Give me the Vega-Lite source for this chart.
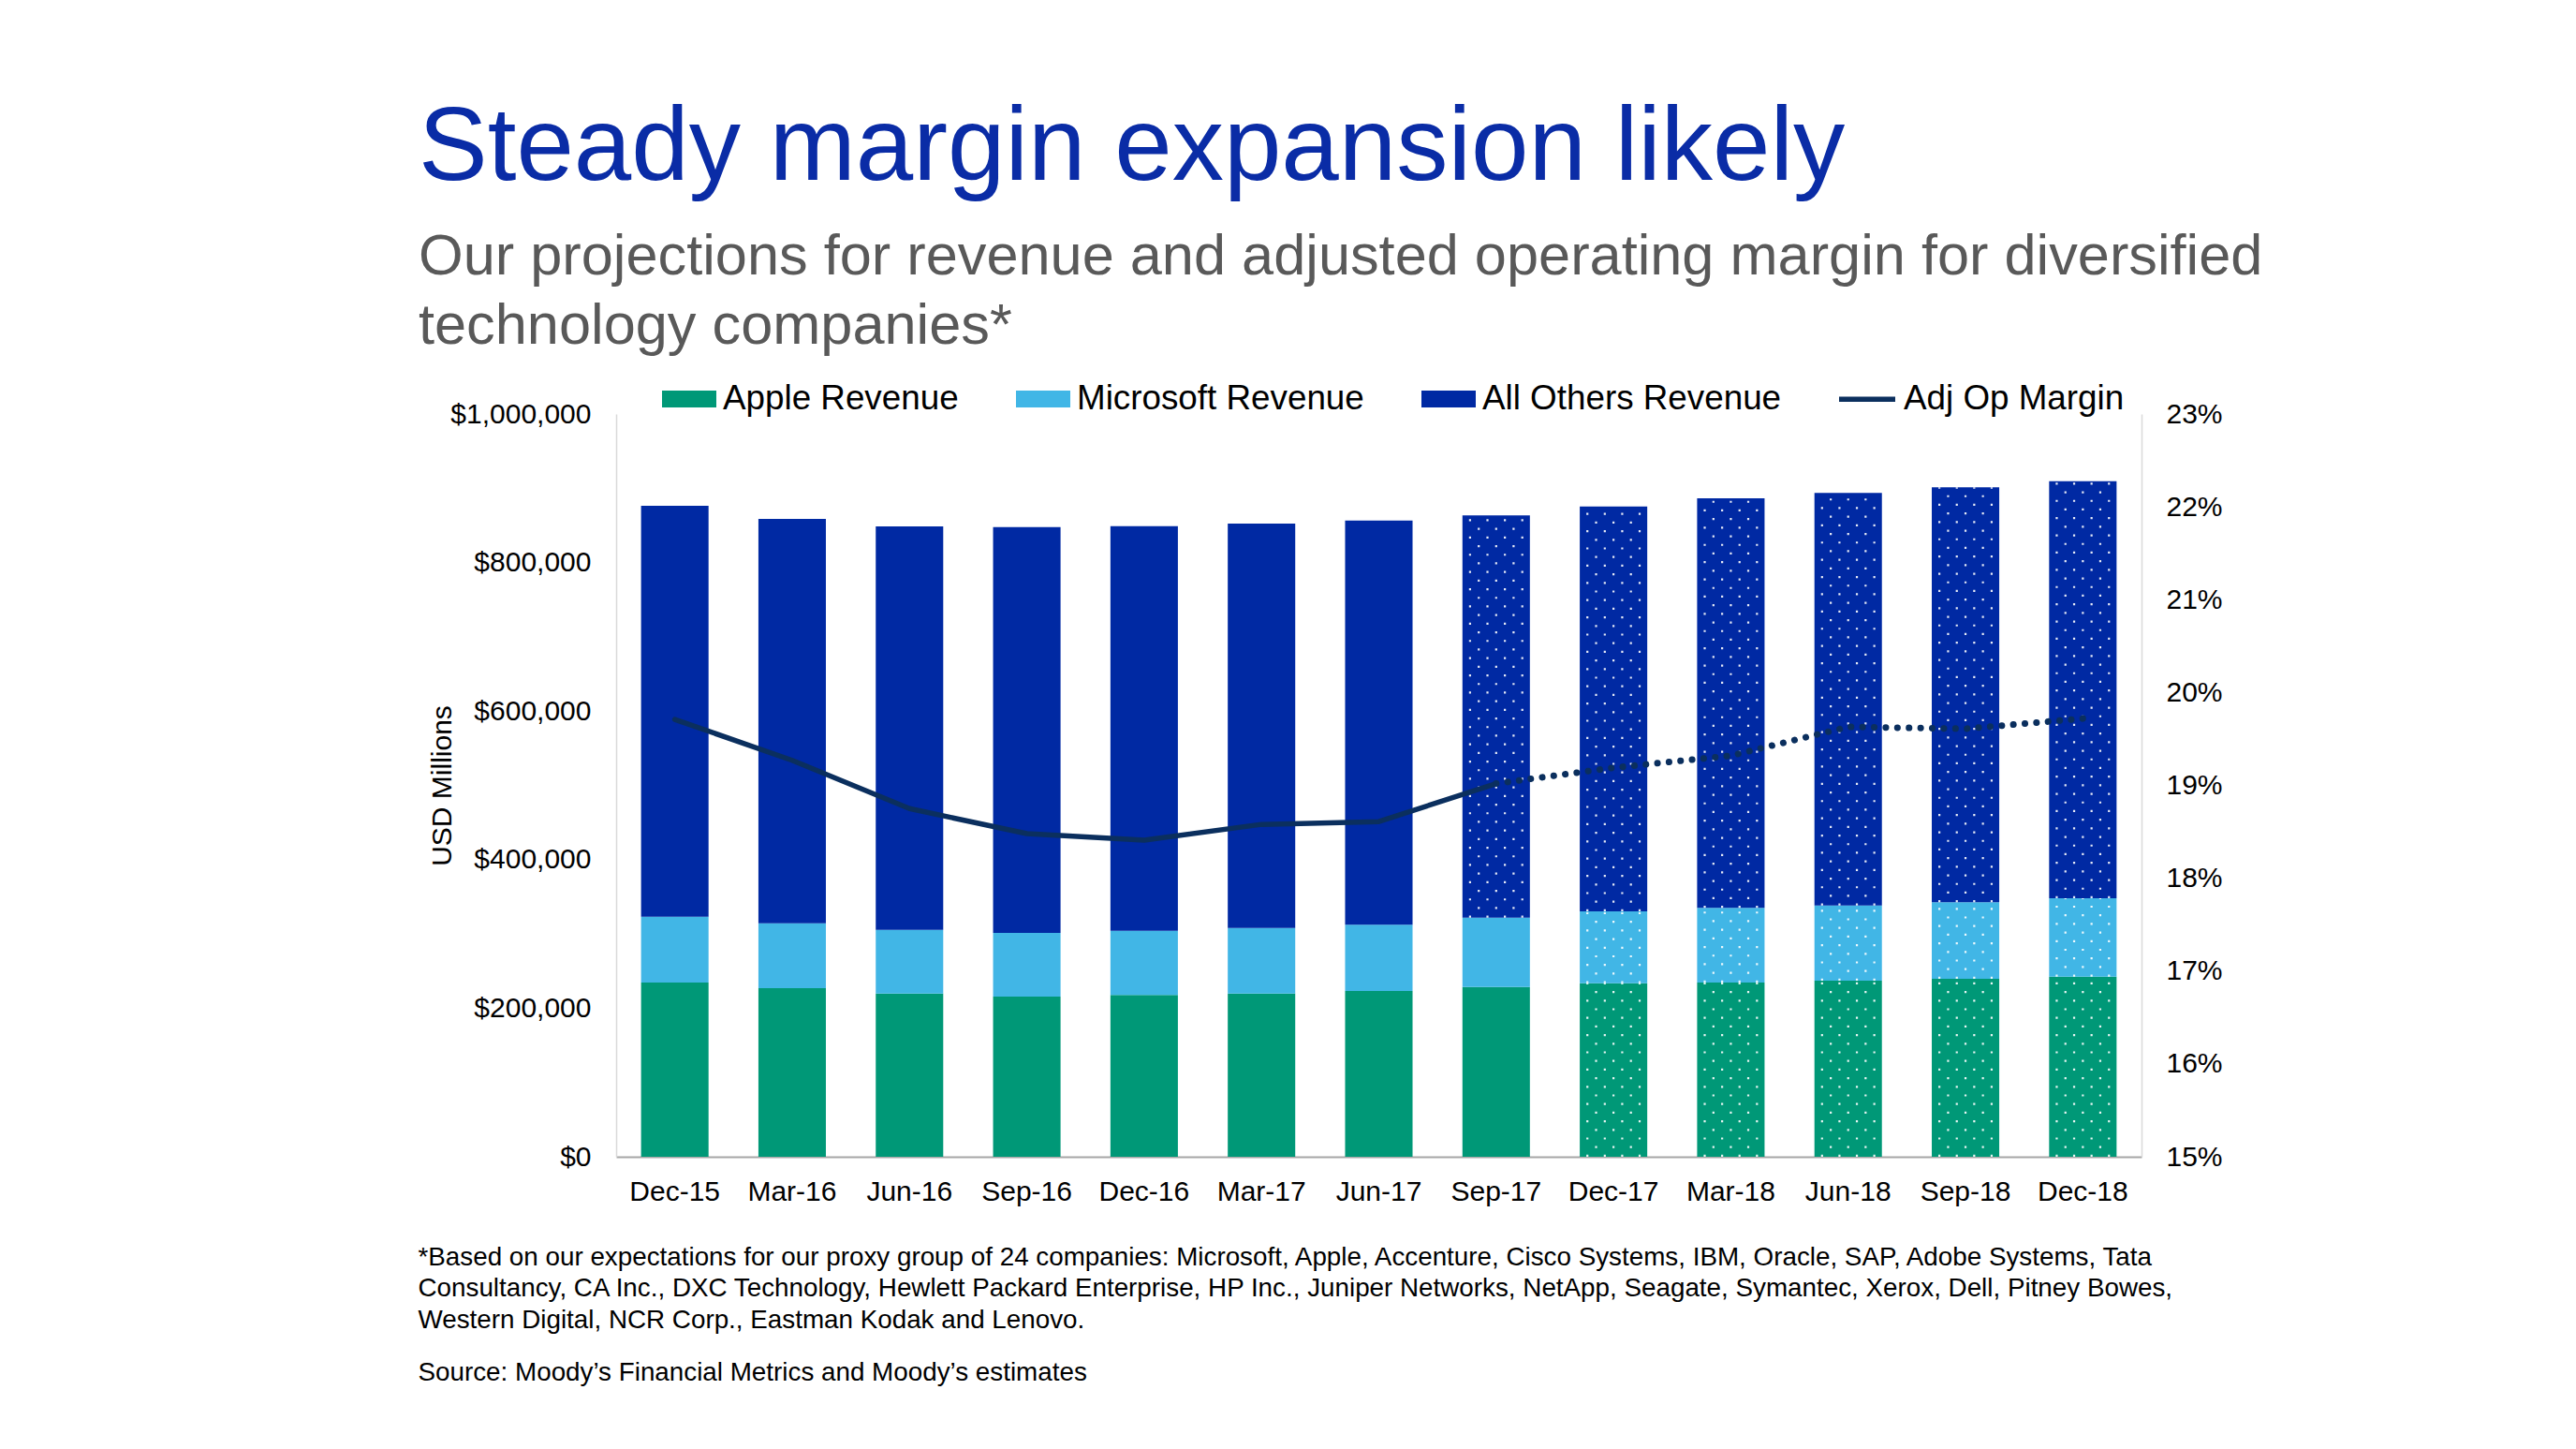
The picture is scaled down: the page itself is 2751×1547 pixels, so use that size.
{
  "$schema": "https://vega.github.io/schema/vega-lite/v6.json",
  "width": 1629,
  "height": 793,
  "autosize": "none",
  "padding": {"left": 658, "top": 442, "right": 464, "bottom": 312},
  "background": "white",
  "config": {
    "view": {"stroke": null},
    "font": "Liberation Sans",
    "axis": {"labelFont": "Liberation Sans", "titleFont": "Liberation Sans", "labelColor": "#000000", "titleColor": "#000000", "grid": false, "ticks": false, "tickSize": 0},
    "legend": {"labelFont": "Liberation Sans", "labelColor": "#000000"}
  },
  "title": {
    "text": "Steady margin expansion likely",
    "subtitle": ["Our projections for revenue and adjusted operating margin for diversified", "technology companies*"],
    "anchor": "start",
    "frame": "group",
    "dx": -211,
    "offset": 12.75,
    "font": "Liberation Sans",
    "fontSize": 110.5,
    "fontWeight": "normal",
    "color": "#0A2CA6",
    "subtitleFont": "Liberation Sans",
    "subtitleFontSize": 61.3,
    "subtitleColor": "#595959",
    "subtitleLineHeight": 74,
    "subtitlePadding": 30
  },
  "data": {
    "values": [
      {"period": "Dec-15", "Apple Revenue": 234600, "Microsoft Revenue": 88600, "All Others Revenue": 553200, "margin": 0.1971, "projected": "none"},
      {"period": "Mar-16", "Apple Revenue": 227000, "Microsoft Revenue": 87400, "All Others Revenue": 544400, "margin": 0.1927, "projected": "none"},
      {"period": "Jun-16", "Apple Revenue": 219800, "Microsoft Revenue": 85700, "All Others Revenue": 543200, "margin": 0.1875, "projected": "none"},
      {"period": "Sep-16", "Apple Revenue": 215600, "Microsoft Revenue": 85800, "All Others Revenue": 546400, "margin": 0.1848, "projected": "none"},
      {"period": "Dec-16", "Apple Revenue": 217800, "Microsoft Revenue": 86500, "All Others Revenue": 544800, "margin": 0.1841, "projected": "none"},
      {"period": "Mar-17", "Apple Revenue": 219800, "Microsoft Revenue": 88300, "All Others Revenue": 544400, "margin": 0.1858, "projected": "none"},
      {"period": "Jun-17", "Apple Revenue": 223200, "Microsoft Revenue": 89200, "All Others Revenue": 544200, "margin": 0.1861, "projected": "none"},
      {"period": "Sep-17", "Apple Revenue": 228600, "Microsoft Revenue": 93300, "All Others Revenue": 541500, "margin": 0.1902, "projected": "others"},
      {"period": "Dec-17", "Apple Revenue": 233700, "Microsoft Revenue": 96700, "All Others Revenue": 545100, "margin": 0.1919, "projected": "all"},
      {"period": "Mar-18", "Apple Revenue": 234600, "Microsoft Revenue": 100500, "All Others Revenue": 551400, "margin": 0.1932, "projected": "all"},
      {"period": "Jun-18", "Apple Revenue": 237100, "Microsoft Revenue": 101200, "All Others Revenue": 555400, "margin": 0.1963, "projected": "all"},
      {"period": "Sep-18", "Apple Revenue": 239600, "Microsoft Revenue": 103100, "All Others Revenue": 558600, "margin": 0.1961, "projected": "all"},
      {"period": "Dec-18", "Apple Revenue": 242500, "Microsoft Revenue": 105500, "All Others Revenue": 561600, "margin": 0.1972, "projected": "all"}
    ]
  },
  "encoding": {
    "x": {
      "field": "period",
      "type": "ordinal",
      "sort": ["Dec-15", "Mar-16", "Jun-16", "Sep-16", "Dec-16", "Mar-17", "Jun-17", "Sep-17", "Dec-17", "Mar-18", "Jun-18", "Sep-18", "Dec-18"],
      "scale": {"paddingInner": 0.425, "paddingOuter": 0.2125},
      "axis": {
        "labelAngle": 0,
        "labelFontSize": 30,
        "labelBaseline": "alphabetic",
        "labelPadding": 46,
        "domainColor": "#a6a6a6",
        "domainWidth": 2,
        "title": [
          "*Based on our expectations for our proxy group of 24 companies: Microsoft, Apple, Accenture, Cisco Systems, IBM, Oracle, SAP, Adobe Systems, Tata",
          "Consultancy, CA Inc., DXC Technology, Hewlett Packard Enterprise, HP Inc., Juniper Networks, NetApp, Seagate, Symantec, Xerox, Dell, Pitney Bowes,",
          "Western Digital, NCR Corp., Eastman Kodak and Lenovo."
        ],
        "titleFontSize": 27.8,
        "titleFontWeight": "normal",
        "titleAnchor": "start",
        "titleAlign": "left",
        "titleBaseline": "alphabetic",
        "titleLineHeight": 33.5,
        "titleX": -212,
        "titleY": 115
      }
    }
  },
  "layer": [
    {
      "transform": [
        {"fold": ["Apple Revenue", "Microsoft Revenue", "All Others Revenue"], "as": ["series", "value"]},
        {"stack": "value", "groupby": ["period"], "as": ["v0", "v1"]}
      ],
      "encoding": {
        "y": {
          "field": "v0",
          "type": "quantitative",
          "scale": {"domain": [0, 1000000], "nice": false},
          "axis": {
            "orient": "left",
            "values": [0, 200000, 400000, 600000, 800000, 1000000],
            "format": "$,.0f",
            "labelFontSize": 30,
            "labelPadding": 27,
            "domainColor": "#d9d9d9",
            "domainWidth": 1.5,
            "title": "USD Millions",
            "titleFontSize": 30,
            "titleFontWeight": "normal",
            "titleAngle": -90,
            "titleAlign": "center",
            "titleBaseline": "alphabetic",
            "titleX": -177,
            "titleY": 396.5
          }
        },
        "y2": {"field": "v1"}
      },
      "layer": [
        {
          "mark": {"type": "bar"},
          "encoding": {
            "fill": {
              "field": "series",
              "type": "nominal",
              "scale": {"domain": ["Apple Revenue", "Microsoft Revenue", "All Others Revenue"], "range": ["#009877", "#41B6E6", "#0029A3"]},
              "legend": {
                "orient": "none",
                "legendX": 49,
                "legendY": -45,
                "direction": "horizontal",
                "columns": 3,
                "title": null,
                "padding": 0,
                "symbolType": "M-1,-0.31H1V0.31H-1Z",
                "symbolSize": 3364,
                "symbolStrokeWidth": 0,
                "symbolOpacity": 1,
                "labelFontSize": 36.8,
                "labelOffset": 7,
                "labelLimit": 1000,
                "columnPadding": 61
              }
            }
          }
        },
        {"transform": [{"filter": "datum.projected == 'all' || (datum.projected == 'others' && datum.series == 'All Others Revenue')"}], "mark": {"type": "rule", "color": "white", "opacity": 0.9, "strokeWidth": 2.2, "strokeDash": [2.2, 16.2], "strokeDashOffset": 0, "xOffset": -27.9}},
        {"transform": [{"filter": "datum.projected == 'all' || (datum.projected == 'others' && datum.series == 'All Others Revenue')"}], "mark": {"type": "rule", "color": "white", "opacity": 0.9, "strokeWidth": 2.2, "strokeDash": [2.2, 16.2], "strokeDashOffset": 9.2, "xOffset": -18.6}},
        {"transform": [{"filter": "datum.projected == 'all' || (datum.projected == 'others' && datum.series == 'All Others Revenue')"}], "mark": {"type": "rule", "color": "white", "opacity": 0.9, "strokeWidth": 2.2, "strokeDash": [2.2, 16.2], "strokeDashOffset": 0, "xOffset": -9.3}},
        {"transform": [{"filter": "datum.projected == 'all' || (datum.projected == 'others' && datum.series == 'All Others Revenue')"}], "mark": {"type": "rule", "color": "white", "opacity": 0.9, "strokeWidth": 2.2, "strokeDash": [2.2, 16.2], "strokeDashOffset": 9.2, "xOffset": 0}},
        {"transform": [{"filter": "datum.projected == 'all' || (datum.projected == 'others' && datum.series == 'All Others Revenue')"}], "mark": {"type": "rule", "color": "white", "opacity": 0.9, "strokeWidth": 2.2, "strokeDash": [2.2, 16.2], "strokeDashOffset": 0, "xOffset": 9.3}},
        {"transform": [{"filter": "datum.projected == 'all' || (datum.projected == 'others' && datum.series == 'All Others Revenue')"}], "mark": {"type": "rule", "color": "white", "opacity": 0.9, "strokeWidth": 2.2, "strokeDash": [2.2, 16.2], "strokeDashOffset": 9.2, "xOffset": 18.6}},
        {"transform": [{"filter": "datum.projected == 'all' || (datum.projected == 'others' && datum.series == 'All Others Revenue')"}], "mark": {"type": "rule", "color": "white", "opacity": 0.9, "strokeWidth": 2.2, "strokeDash": [2.2, 16.2], "strokeDashOffset": 0, "xOffset": 27.9}}
      ]
    },
    {
      "encoding": {
        "y": {
          "field": "margin",
          "type": "quantitative",
          "scale": {"domain": [0.15, 0.23], "nice": false, "zero": false},
          "axis": {
            "orient": "right",
            "values": [0.15, 0.16, 0.17, 0.18, 0.19, 0.2, 0.21, 0.22, 0.23],
            "format": ".0%",
            "labelFontSize": 30,
            "labelPadding": 26,
            "domainColor": "#d9d9d9",
            "domainWidth": 1.5,
            "title": "Source: Moody’s Financial Metrics and Moody’s estimates",
            "titleFontSize": 27.8,
            "titleFontWeight": "normal",
            "titleAngle": 0,
            "titleAlign": "left",
            "titleBaseline": "alphabetic",
            "titleX": -1841,
            "titleY": 1031
          }
        }
      },
      "layer": [
        {
          "transform": [{"filter": "datum.projected != 'all'"}],
          "mark": {"type": "line", "strokeWidth": 5.5, "strokeJoin": "round", "strokeCap": "round"},
          "encoding": {
            "stroke": {
              "datum": "Adj Op Margin",
              "type": "nominal",
              "scale": {"range": ["#0B2F5E"]},
              "legend": {
                "orient": "none",
                "legendX": 1303,
                "legendY": -48.75,
                "title": null,
                "padding": 0,
                "symbolType": "M-1,0H1",
                "symbolSize": 3600,
                "symbolStrokeWidth": 5.5,
                "labelFontSize": 36.8,
                "labelOffset": 6,
                "labelLimit": 1000
              }
            }
          }
        },
        {
          "transform": [{"filter": "datum.projected != 'none'"}],
          "mark": {"type": "line", "stroke": "#0B2F5E", "strokeWidth": 7, "strokeDash": [0.1, 12.3], "strokeCap": "round"},
          "encoding": {}
        }
      ]
    }
  ],
  "resolve": {"scale": {"y": "independent"}}
}
